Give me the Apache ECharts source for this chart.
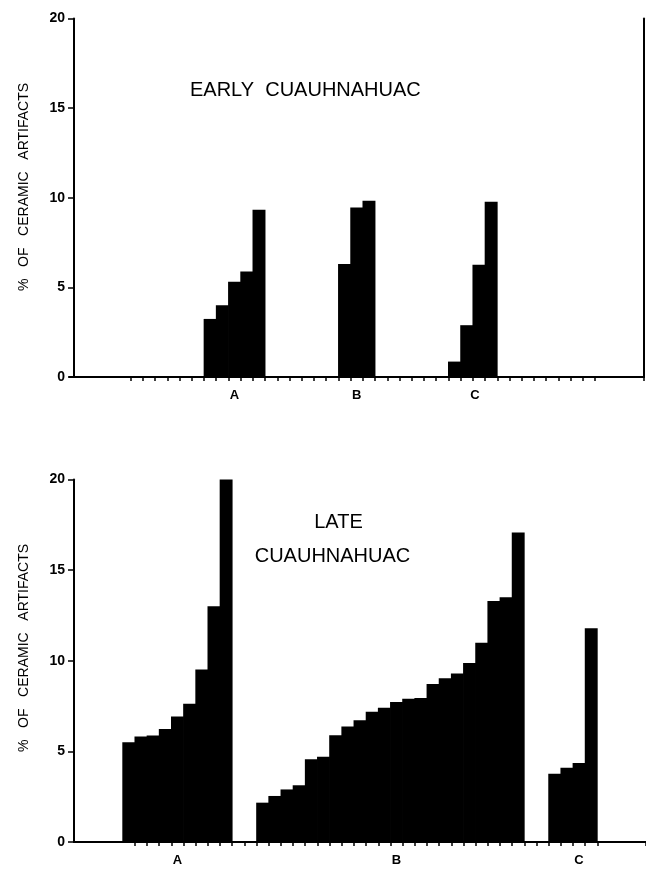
<!DOCTYPE html>
<html><head><meta charset="utf-8">
<script src="https://cdn.jsdelivr.net/npm/echarts@6/dist/echarts.min.js"></script>
<style>html,body{margin:0;padding:0;background:#fff}#c{width:646px;height:873px}</style>
</head><body><div id="c"></div>
<script>
// ---- data ----
const groupLabels = ['A', 'B', 'C'];
const yTicks = [0, 5, 10, 15, 20];
const earlyA = [3.24, 4.00, 5.32, 5.88, 9.33];
const earlyB = [6.31, 9.45, 9.83];
const earlyC = [0.86, 2.89, 6.26, 9.78];
const lateA = [5.50, 5.82, 5.88, 6.24, 6.93, 7.63, 9.52, 13.01, 20];
const lateB = [2.17, 2.54, 2.90, 3.13, 4.57, 4.71, 5.89, 6.37, 6.72, 7.18, 7.41,
               7.72, 7.90, 7.94, 8.72, 9.03, 9.30, 9.88, 10.99, 13.3, 13.5, 17.07];
const lateC = [3.77, 4.09, 4.36, 11.79];
const titleEarly = 'EARLY  CUAUHNAHUAC';
const titleLate = ['LATE', 'CUAUHNAHUAC'];
const yName = '%   OF   CERAMIC   ARTIFACTS';

// ---- layout ----
const panels = [
  { groups: [earlyA, earlyB, earlyC], slots: 47, starts: [11, 22, 31], labelSlot: [13, 23, 33], labelPad: [0, 0, 8],
    tickFrom: 5, tickTo: 43, grid: { left: 69.6, right: 2.1, top: 18.5, bottom: 873 - 377 }, yOffset: -4.4, rightBorder: true },
  { groups: [lateA, lateB, lateC], slots: 47, starts: [4, 15, 39], labelSlot: [8, 26, 41], labelPad: [0, 0, 0],
    tickFrom: 5, tickTo: 43, grid: { left: 74, right: -2, top: 479.5, bottom: 873 - 842 }, yOffset: 0, rightBorder: false }
];

const FONT = "'Liberation Sans', Arial, Helvetica, sans-serif";
const grids = [], xAxes = [], yAxes = [], series = [];

panels.forEach((p, pi) => {
  grids.push(Object.assign({ containLabel: false }, p.grid));
  const cats = Array.from({ length: p.slots }, (_, i) => 's' + i);
  const labelMap = {};
  p.labelSlot.forEach((s, gi) => { labelMap[s] = gi; });
  const vals = new Array(p.slots).fill(null);
  p.groups.forEach((g, gi) => g.forEach((v, k) => { vals[p.starts[gi] + k] = v; }));
  const rich = {};
  groupLabels.forEach((l, gi) => {
    rich['g' + gi] = { fontFamily: FONT, fontWeight: 'bold', fontSize: 13, color: '#000',
      padding: [0, p.labelPad[gi], 0, 0] };
  });
  xAxes.push({
    type: 'category', gridIndex: pi, data: cats, position: 'bottom',
    axisLine: { show: true, onZero: true, lineStyle: { color: '#000', width: 2 } },
    axisTick: { show: true, length: 4, interval: (idx) => idx >= p.tickFrom && idx <= p.tickTo,
      lineStyle: { color: '#000', width: 1.5 } },
    axisLabel: { show: true, interval: 0, margin: 12, rich: rich,
      formatter: (v, idx) => (idx in labelMap) ? '{g' + labelMap[idx] + '|' + groupLabels[labelMap[idx]] + '}' : '' },
    splitLine: { show: false }
  });
  xAxes.push({
    type: 'category', gridIndex: pi, data: cats, position: 'top',
    axisLine: { show: true, lineStyle: { color: '#000', width: 2 } },
    axisTick: { show: false }, axisLabel: { show: false }, splitLine: { show: false }
  });
  yAxes.push({
    type: 'value', gridIndex: pi, min: yTicks[0], max: yTicks[yTicks.length - 1], interval: yTicks[1] - yTicks[0],
    offset: p.yOffset,
    axisLine: { show: true, lineStyle: { color: '#000', width: 2 } },
    axisTick: { show: true, length: 6, lineStyle: { color: '#000', width: 1.5 } },
    axisLabel: { show: true, margin: 9, fontFamily: FONT, fontWeight: 'bold', fontSize: 14, color: '#000' },
    splitLine: { show: false }
  });
  yAxes.push({
    type: 'value', gridIndex: pi, position: 'right', min: yTicks[0], max: yTicks[yTicks.length - 1],
    show: p.rightBorder,
    axisLine: { show: p.rightBorder, lineStyle: { color: '#000', width: 2 } },
    axisTick: { show: false }, axisLabel: { show: false }, splitLine: { show: false }
  });
  series.push({
    type: 'bar', xAxisIndex: pi * 2, yAxisIndex: pi * 2, data: vals,
    barWidth: '106%', barGap: '-100%',
    itemStyle: { color: '#000', borderWidth: 0 },
    silent: true, animation: false
  });
});

const chart = echarts.init(document.getElementById('c'), null, { renderer: 'canvas' });
chart.setOption({
  animation: false,
  backgroundColor: '#fff',
  grid: grids, xAxis: xAxes, yAxis: yAxes, series: series,
  graphic: [
    { type: 'text', x: 190, y: 90.5, style: { text: titleEarly, fontFamily: FONT, fontSize: 20, fill: '#000', align: 'left', verticalAlign: 'middle' } },
    { type: 'text', x: 338.5, y: 522.5, style: { text: titleLate[0], fontFamily: FONT, fontSize: 20, fill: '#000', align: 'center', verticalAlign: 'middle' } },
    { type: 'text', x: 332.5, y: 556.5, style: { text: titleLate[1], fontFamily: FONT, fontSize: 20, fill: '#000', align: 'center', verticalAlign: 'middle' } },
    { type: 'text', x: 24, y: 187, rotation: Math.PI / 2, style: { text: yName, fontFamily: FONT, fontSize: 14, fill: '#000', align: 'center', verticalAlign: 'middle' } },
    { type: 'text', x: 24, y: 648, rotation: Math.PI / 2, style: { text: yName, fontFamily: FONT, fontSize: 14, fill: '#000', align: 'center', verticalAlign: 'middle' } }
  ]
});
</script></body></html>
